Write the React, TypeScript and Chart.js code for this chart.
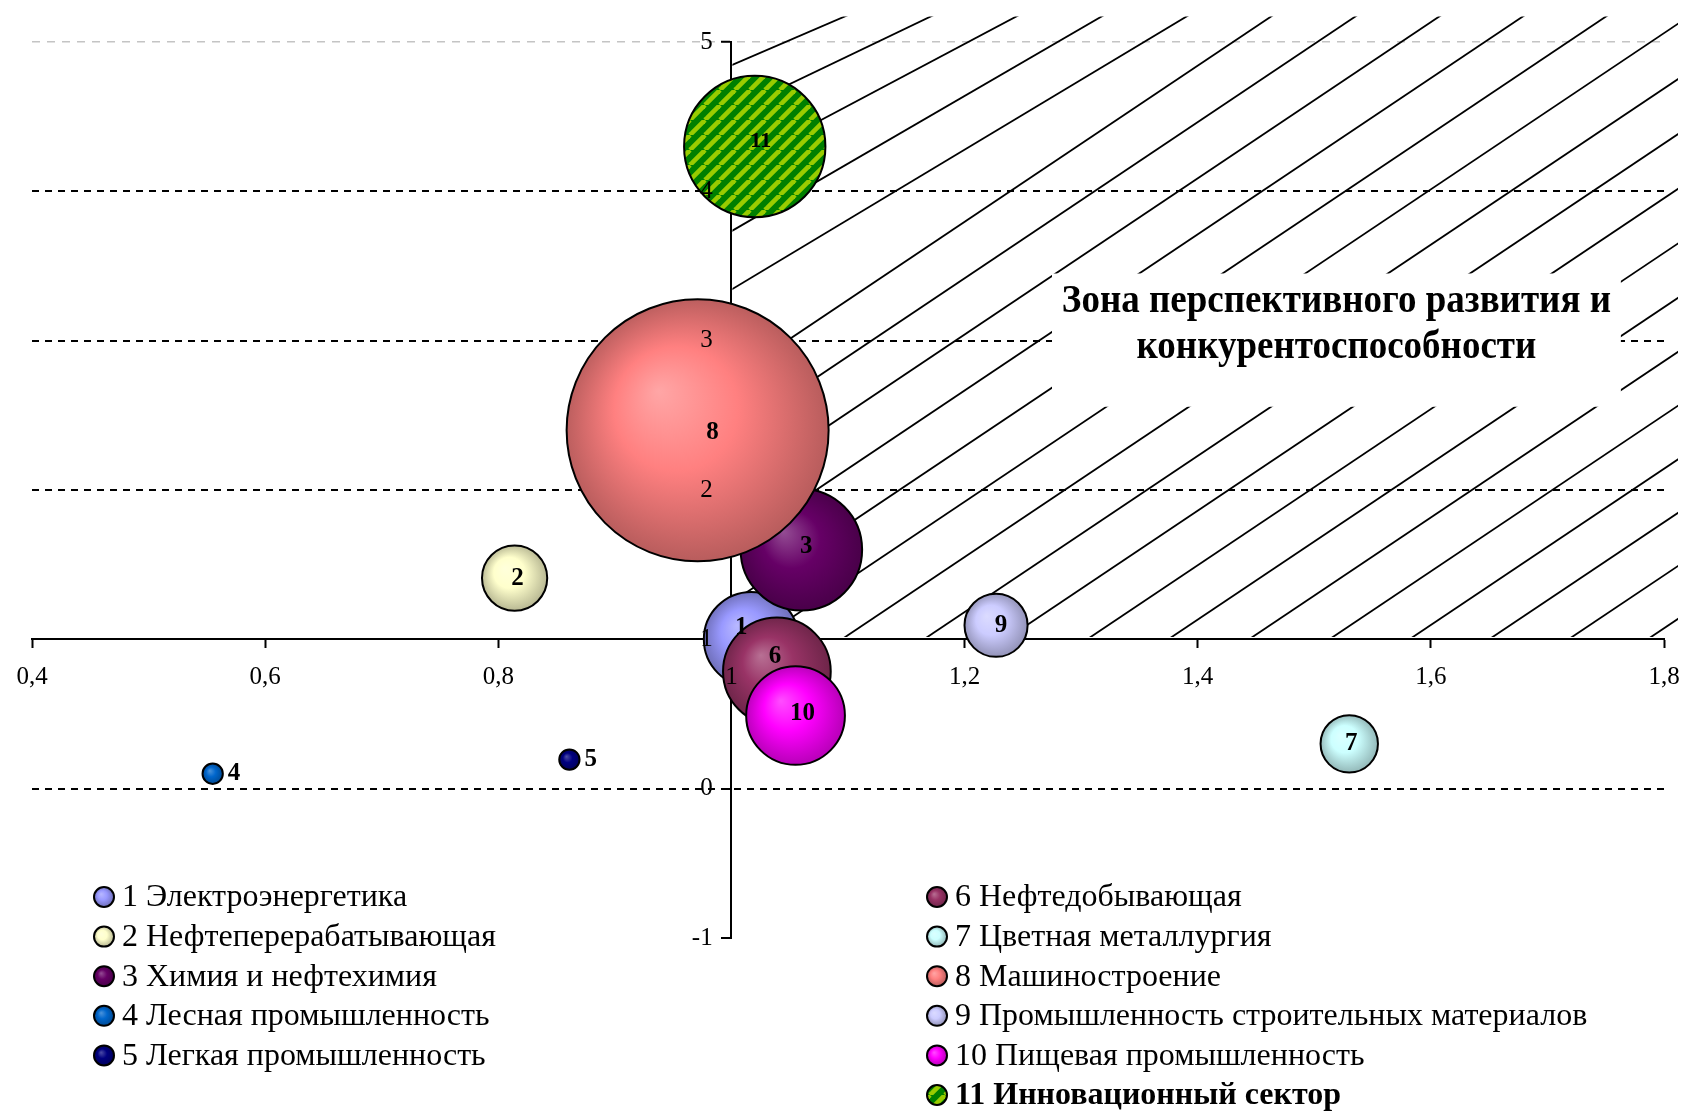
import React, { useEffect, useRef } from "react";
import { Chart, registerables } from "chart.js";

Chart.register(...registerables);

// ---------- data ----------
const sectorNumbers = ["1", "2", "3", "4", "5", "6", "7", "8", "9", "10", "11"];
const sectorNames = [
  "Электроэнергетика",
  "Нефтеперерабатывающая",
  "Химия и нефтехимия",
  "Лесная промышленность",
  "Легкая промышленность",
  "Нефтедобывающая",
  "Цветная металлургия",
  "Машиностроение",
  "Промышленность строительных материалов",
  "Пищевая промышленность",
  "Инновационный сектор",
];
const xValues = [1.017, 0.814, 1.06, 0.555, 0.861, 1.039, 1.53, 0.971, 1.227, 1.055, 1.02];
const yValues = [1.0, 1.41, 1.6, 0.1, 0.195, 0.785, 0.3, 2.4, 1.094, 0.49, 4.3];
const bubbleSizes = [13.1, 6.2, 21.5, 0.6, 0.6, 16.9, 4.8, 100, 5.8, 14.2, 29.1];

const xTickValues = [0.4, 0.6, 0.8, 1.0, 1.2, 1.4, 1.6, 1.8];
const xTickLabels = ["0,4", "0,6", "0,8", "1", "1,2", "1,4", "1,6", "1,8"];
const yTickValues = [-1, 0, 1, 2, 3, 4, 5];
const yTickLabels = ["-1", "0", "1", "2", "3", "4", "5"];

const zoneTitleLines = ["Зона перспективного развития и", "конкурентоспособности"];

// ---------- styles ----------
const sectorColors = [
  "#9999FF", "#FFFFCC", "#660066", "#0066CC", "#000080", "#993366",
  "#CCFFFF", "#FF8080", "#CCCCFF", "#FF00FF", "#008000",
];
// small label nudges (px), as Excel places centre labels
const labelNudgeX = [-10, 3, 5, 0, 0, -2, 2, 15, 5, 7, 6];
const labelNudgeY = [-12, 0, -3, 0, 0, -15, 0, 2, 0, -2, -5];
const STRIPED_INDEX = 10;
const OUTSIDE_LABEL = [3, 4];
const FONT = "'Times New Roman', 'Liberation Serif', serif";
const MAX_RADIUS = 131;
const HATCH_SLOPES_START = [0.43, 0.48, 0.53, 0.58, 0.6];

function hexToRgb(h: string) {
  const n = parseInt(h.slice(1), 16);
  return [(n >> 16) & 255, (n >> 8) & 255, n & 255];
}
function mix(h: string, t: string, a: number) {
  const c = hexToRgb(h);
  const d = hexToRgb(t);
  return `rgb(${c.map((v, i) => Math.round(v + (d[i] - v) * a)).join(",")})`;
}

let stripeCache: CanvasPattern | null = null;
function stripePattern(ctx: CanvasRenderingContext2D) {
  if (stripeCache) return stripeCache;
  const s = 15;
  const c = document.createElement("canvas");
  c.width = s;
  c.height = s;
  const p = c.getContext("2d")!;
  p.fillStyle = "#007F00";
  p.fillRect(0, 0, s, s);
  p.strokeStyle = "#99CC00";
  p.lineWidth = 4.6;
  for (const o of [-s, 0, s]) {
    p.beginPath();
    p.moveTo(o, s);
    p.lineTo(o + s, 0);
    p.stroke();
  }
  stripeCache = ctx.createPattern(c, "repeat");
  return stripeCache;
}

function sphereFill(ctx: CanvasRenderingContext2D, cx: number, cy: number, r: number, i: number): any {
  if (i === STRIPED_INDEX) return stripePattern(ctx);
  const base = sectorColors[i];
  if (!isFinite(cx) || !isFinite(cy) || !isFinite(r) || r <= 0) return base;
  const g = ctx.createRadialGradient(cx - r * 0.3, cy - r * 0.3, 0, cx, cy, r * 1.05);
  g.addColorStop(0, mix(base, "#FFFFFF", 0.3));
  g.addColorStop(0.45, base);
  g.addColorStop(1, mix(base, "#000000", 0.3));
  return g;
}

// ---------- plugins ----------
const zonePlugin = {
  id: "zone",
  beforeDatasetsDraw(chart: any) {
    const { ctx } = chart;
    const xs = chart.scales.x;
    const ys = chart.scales.y;
    const L = xs.getPixelForValue(1) + 1;
    const R = xs.getPixelForValue(1.812);
    const T = ys.getPixelForValue(5.17);
    const B = ys.getPixelForValue(1.015);
    const bL = xs.getPixelForValue(1.275);
    const bR = xs.getPixelForValue(1.763);
    const bT = ys.getPixelForValue(3.45);
    const bB = ys.getPixelForValue(2.557);

    ctx.save();
    ctx.fillStyle = "#FFFFFF";
    ctx.fillRect(bL, bT, bR - bL, bB - bT);
    ctx.restore();

    ctx.save();
    ctx.beginPath();
    ctx.rect(L, T, R - L, B - T);
    ctx.rect(bL, bT, bR - bL, bB - bT);
    ctx.clip("evenodd");
    ctx.strokeStyle = "#000";
    ctx.lineWidth = 1.8;
    let ax = L + 112;
    for (let k = 0; k < 32; k++) {
      const s = k < HATCH_SLOPES_START.length ? HATCH_SLOPES_START[k] : 0.67;
      ctx.beginPath();
      ctx.moveTo(ax + 400, T - 400 * s);
      ctx.lineTo(ax - 2400, T + 2400 * s);
      ctx.stroke();
      ax += Math.max(70, 86 - 0.35 * k);
    }
    ctx.restore();

    const cx = xs.getPixelForValue(1.519);
    const lines: [string, number][] = [
      [zoneTitleLines[0], ys.getPixelForValue(3.19)],
      [zoneTitleLines[1], ys.getPixelForValue(2.886)],
    ];
    lines.forEach(([t, by]) => {
      ctx.save();
      ctx.translate(cx, by);
      ctx.scale(1, 1.08);
      ctx.fillStyle = "#000";
      ctx.font = `bold 37px ${FONT}`;
      ctx.textAlign = "center";
      ctx.textBaseline = "alphabetic";
      ctx.fillText(t, 0, 0);
      ctx.restore();
    });
  },
};

const labelPlugin = {
  id: "bubbleLabels",
  afterDatasetsDraw(chart: any) {
    const { ctx } = chart;
    const meta = chart.getDatasetMeta(0);
    ctx.save();
    ctx.fillStyle = "#000";
    ctx.textBaseline = "middle";
    meta.data.forEach((el: any, i: number) => {
      const size = i === STRIPED_INDEX ? 22 : 25;
      ctx.font = `bold ${size}px ${FONT}`;
      if (OUTSIDE_LABEL.includes(i)) {
        ctx.textAlign = "left";
        ctx.fillText(sectorNumbers[i], el.x + el.options.radius + 5, el.y);
      } else {
        ctx.textAlign = "center";
        ctx.fillText(sectorNumbers[i], el.x + labelNudgeX[i], el.y + labelNudgeY[i]);
      }
    });
    ctx.restore();
  },
};

const legendPlugin = {
  id: "sectorLegend",
  afterDraw(chart: any) {
    const { ctx } = chart;
    ctx.save();
    sectorNames.forEach((name, i) => {
      const col = i < 5 ? 0 : 1;
      const row = i < 5 ? i : i - 5;
      const mx = col === 0 ? 104 : 937;
      const my = 897 + row * 39.6;
      const r = 10;
      ctx.beginPath();
      ctx.arc(mx, my, r, 0, Math.PI * 2);
      ctx.fillStyle = sphereFill(ctx, mx, my, r, i);
      ctx.fill();
      ctx.lineWidth = 2;
      ctx.strokeStyle = "#000";
      ctx.stroke();
      ctx.font = `${i === STRIPED_INDEX ? "bold " : ""}32px ${FONT}`;
      ctx.fillStyle = "#000";
      ctx.textAlign = "left";
      ctx.textBaseline = "middle";
      ctx.fillText(`${sectorNumbers[i]} ${name}`, mx + 18, my + 1);
    });
    ctx.restore();
  },
};

export default function App() {
  const ref = useRef<HTMLCanvasElement>(null);

  useEffect(() => {
    const canvas = ref.current!;
    const chart = new Chart(canvas, {
      type: "bubble",
      data: {
        datasets: [
          {
            label: "Отрасли",
            data: xValues.map((x, i) => ({
              x,
              y: yValues[i],
              r: MAX_RADIUS * Math.sqrt(bubbleSizes[i] / Math.max(...bubbleSizes)),
            })),
            backgroundColor: (c: any) => {
              if (c.type !== "data" || !c.raw) return "#cccccc";
              const ch = c.chart;
              const sx = ch.scales && ch.scales.x;
              const sy = ch.scales && ch.scales.y;
              if (!sx || !sy) return sectorColors[c.dataIndex];
              const px = sx.getPixelForValue(c.raw.x);
              const py = sy.getPixelForValue(c.raw.y);
              return sphereFill(ch.ctx, px, py, c.raw.r, c.dataIndex);
            },
            borderColor: "#000",
            borderWidth: 2,
            clip: false as any,
          },
        ],
      },
      options: {
        responsive: false,
        animation: false,
        events: [],
        layout: { autoPadding: false, padding: { left: 32, right: 22, top: 42, bottom: 174 } },
        plugins: {
          legend: { display: false },
          tooltip: { enabled: false },
        },
        scales: {
          x: {
            type: "linear",
            min: 0.4,
            max: 1.8,
            position: { y: 1 } as any,
            afterBuildTicks: (s: any) => {
              s.ticks = xTickValues.map((v) => ({ value: v }));
            },
            ticks: {
              callback: (_v: any, i: number) => xTickLabels[i],
              font: { family: FONT, size: 25, lineHeight: 2.44 },
              color: "#000",
              padding: 0,
              autoSkip: false,
              maxRotation: 0,
              z: 1,
            },
            grid: {
              display: true,
              drawOnChartArea: false,
              drawTicks: true,
              tickLength: 8,
              tickWidth: 2,
              tickColor: "#000",
            },
            border: { display: true, color: "#000", width: 2 },
          },
          y: {
            type: "linear",
            min: -1,
            max: 5,
            position: { x: 1 } as any,
            afterBuildTicks: (s: any) => {
              s.ticks = yTickValues.map((v) => ({ value: v }));
            },
            ticks: {
              callback: (_v: any, i: number) => yTickLabels[i] + "   ",
              font: { family: FONT, size: 25 },
              color: "#000",
              autoSkip: false,
              z: 1,
            },
            grid: {
              display: true,
              drawOnChartArea: true,
              drawTicks: true,
              tickLength: 9,
              tickWidth: 2,
              tickColor: "#000",
              color: (c: any) => {
                const v = c.tick ? c.tick.value : null;
                if (v === 5) return "#C4C4C4";
                if (v === 1 || v === -1) return "rgba(0,0,0,0)";
                return "#000";
              },
              lineWidth: (c: any) => (c.tick && c.tick.value === 5 ? 1.5 : 2),
            },
            border: {
              display: true,
              color: "#000",
              width: 2,
              dash: (c: any) => (c.tick && c.tick.value === 5 ? [8, 7] : [7, 6]),
            } as any,
          },
        },
      },
      plugins: [zonePlugin, labelPlugin, legendPlugin],
    } as any);
    return () => chart.destroy();
  }, []);

  return (
    <div
      style={{
        position: "absolute",
        left: 0,
        top: 0,
        width: 1686,
        height: 1112,
        background: "#FFFFFF",
      }}
    >
      <canvas
        ref={ref}
        width={1686}
        height={1112}
        style={{ width: 1686, height: 1112, display: "block" }}
      />
    </div>
  );
}
